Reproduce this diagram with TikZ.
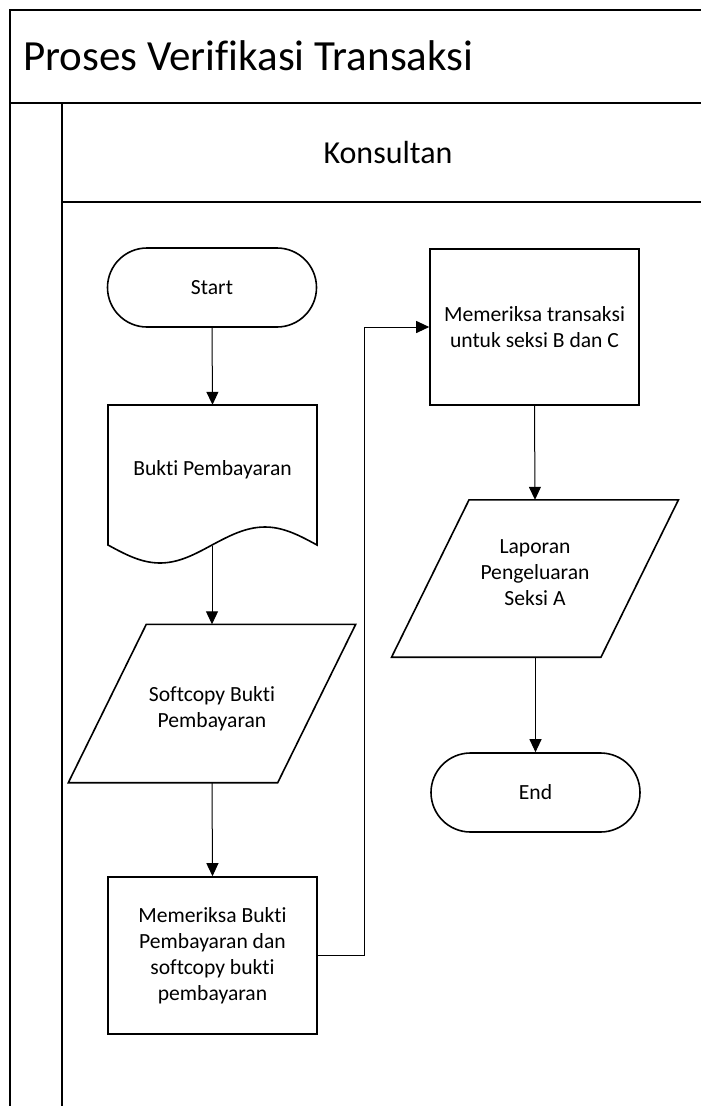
\documentclass[tikz,border=0pt]{standalone}
\usepackage{fontspec}
\setmainfont{Carlito}[Ligatures=NoCommon]
\usetikzlibrary{arrows.meta}

\tikzset{
  frameline/.style={line width=1.8pt},
  shapeline/.style={line width=1.6pt},
  txt/.style={align=center, inner sep=0pt, font=\fontsize{21.6}{26}\selectfont},
  terminal/.style={txt, draw, shapeline, rounded corners=39.5pt,
    minimum width=209pt, minimum height=79pt},
  process/.style={txt, draw, shapeline, minimum width=209pt, minimum height=157pt},
  geom/.style={inner sep=0pt, minimum width=209pt},
  flow/.style={line width=1pt, -{Triangle[length=13pt,width=12pt]}},
}

\begin{document}
\begin{tikzpicture}[x=1pt,y=-1pt]
\useasboundingbox (0,0) rectangle (701,1106);

% pool and lane frame
\draw[frameline] (701,10) -- (10,10) -- (10,1106);
\draw[frameline] (10,103) -- (701,103);
\draw[frameline] (62,103) -- (62,1106);
\draw[frameline] (62,202) -- (701,202);
\node[anchor=west, inner sep=0pt, font=\fontsize{43}{52}\selectfont] (title) at (23,56) {Proses Verifikasi Transaksi};
\node[inner sep=0pt, font=\fontsize{32}{38}\selectfont] (lane) at (388,152.5) {Konsultan};

% left column
\node[terminal] (start) at (212,287.5) {Start};

\node[geom, minimum height=140pt,
  label={[txt, yshift=5pt]center:Bukti Pembayaran}] (doc) at (212.5,475) {};
\draw[shapeline] (317,545) -- (317,405) -- (108,405) -- (108,545)
  sin (160,563) cos (212,545) sin (265,527) cos (317,545) -- cycle;
\coordinate (docb) at (212,546);

\node[geom, minimum height=158pt,
  label={[txt, yshift=-5pt]center:Softcopy Bukti\\Pembayaran}] (p1) at (212,703.5) {};
\draw[shapeline] ([xshift=-39pt]p1.south west) -- ([xshift=39pt]p1.north west)
  -- ([xshift=39pt]p1.north east) -- ([xshift=-39pt]p1.south east) -- cycle;

\node[process] (box1) at (212.5,955.5) {Memeriksa Bukti\\Pembayaran dan\\softcopy bukti\\pembayaran};

% right column
\node[process, minimum height=156pt] (box2) at (534.5,327) {Memeriksa transaksi\\untuk seksi B dan C};

\node[geom, minimum height=157pt,
  label={[txt, yshift=5.5pt]center:Laporan\\Pengeluaran\\Seksi A}] (p2) at (535,578.5) {};
\draw[shapeline] ([xshift=-38.75pt]p2.south west) -- ([xshift=38.75pt]p2.north west)
  -- ([xshift=38.75pt]p2.north east) -- ([xshift=-38.75pt]p2.south east) -- cycle;

\node[terminal] (end) at (535.5,792.5) {End};

% connectors
\draw[flow] (start.south) -- (doc.north);
\draw[flow] (docb) -- (p1.north);
\draw[flow] (p1.south) -- (box1.north);
\draw[flow] (box1.east) -- ++(47,0) |- (box2.west);
\draw[flow] (box2.south) -- (p2.north);
\draw[flow] (p2.south -| end.north) -- (end.north);
\end{tikzpicture}
\end{document}
